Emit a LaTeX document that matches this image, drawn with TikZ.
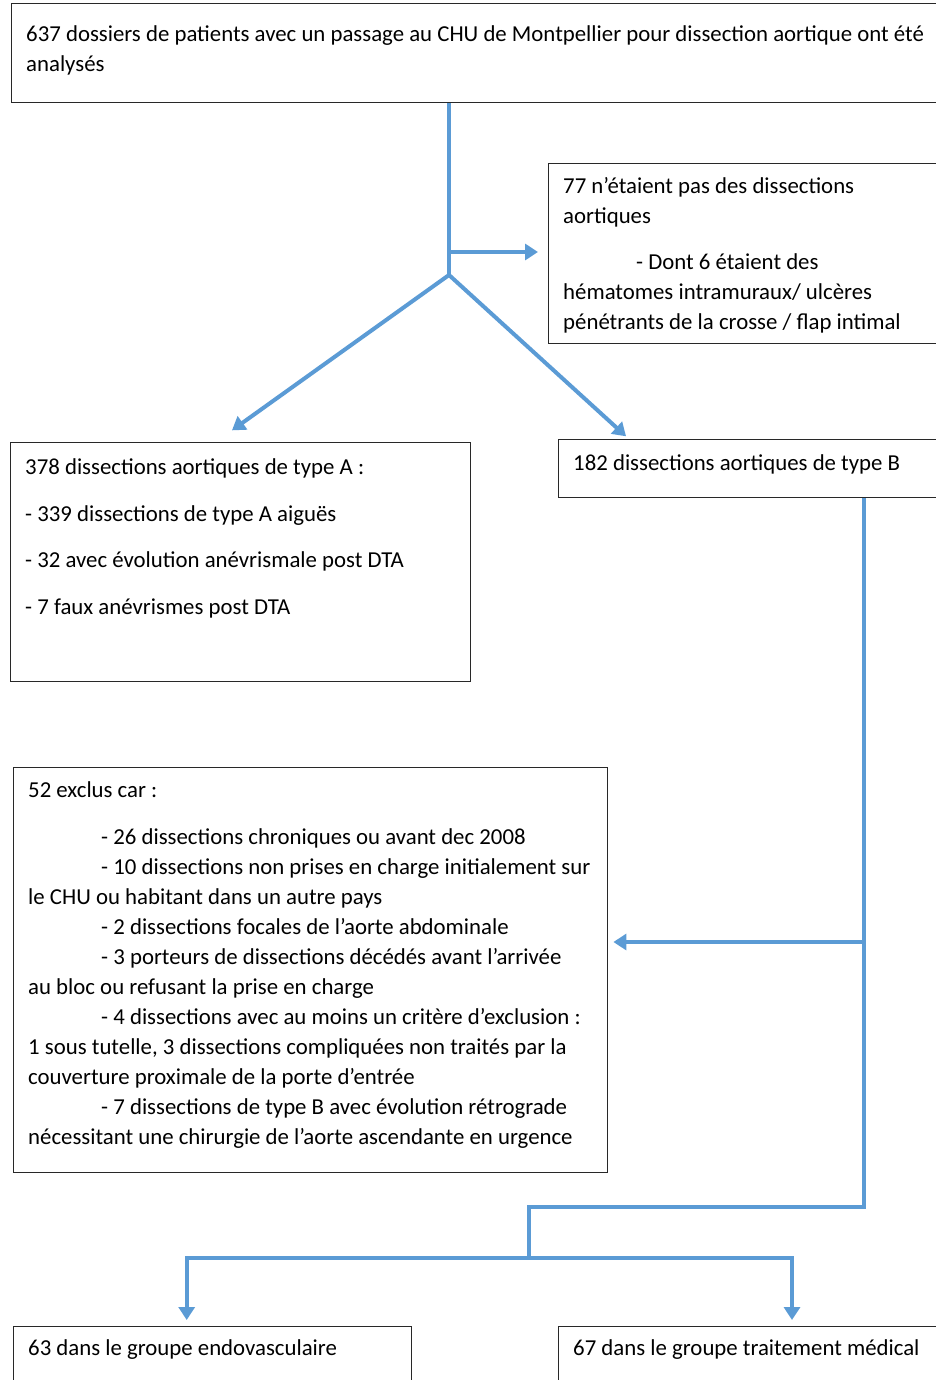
\documentclass[tikz,border=0pt]{standalone}
\usepackage{fontspec}
\setmainfont{Carlito}
\usepackage{tikz}
\usetikzlibrary{arrows.meta}
\usetikzlibrary{calc}
\definecolor{fleche}{RGB}{91,155,213}
\definecolor{cadre}{RGB}{40,40,40}
\newcommand{\debut}{\rule{0pt}{20pt}}
\newcommand{\retrait}{\hspace*{73pt}}
\tikzset{
	cadreboite/.style={draw=cadre,line width=1.4pt,rectangle,anchor=north west,inner sep=0pt},
	texte/.style={anchor=north west,align=left,inner sep=0pt,font=\fontsize{22.8}{30}\selectfont},
	flux/.style={draw=fleche,line width=4pt},
	fluxfl/.style={flux,-{Triangle[length=13pt,width=16pt]}}
}

\begin{document}
\begin{tikzpicture}[x=1pt,y=-1pt]
			\useasboundingbox (0,0) rectangle (936,1380);
			
			\node[cadreboite,minimum width=940pt,minimum height=99pt] (total) at (11,3) {};
			\node[texte] (total-txt) at ($(total.north west)+(15,18)$) {\debut 637 dossiers de patients avec un passage au CHU de Montpellier pour dissection aortique ont été\\ analysés};
			
			\node[cadreboite,minimum width=400pt,minimum height=180pt] (nonda) at (548,163) {};
			\node[texte] (nonda-txt) at ($(nonda.north west)+(15,10)$) {\debut 77 n’étaient pas des dissections\\ aortiques\\[16pt] \retrait - Dont 6 étaient des\\ hématomes intramuraux/ ulcères\\ pénétrants de la crosse / flap intimal};
			
			\node[cadreboite,minimum width=460pt,minimum height=239pt] (typeA) at (10,442) {};
			\node[texte] (typeA-txt) at ($(typeA.north west)+(15,12)$) {\debut 378 dissections aortiques de type A :\\[17pt] - 339 dissections de type A aiguës\\[16pt] - 32 avec évolution anévrismale post DTA\\[17pt] - 7 faux anévrismes post DTA};
			
			\node[cadreboite,minimum width=400pt,minimum height=58pt] (typeB) at (558,439) {};
			\node[texte] (typeB-txt) at ($(typeB.north west)+(15,11)$) {\debut 182 dissections aortiques de type B};
			
			\node[cadreboite,minimum width=594pt,minimum height=405pt] (exclus) at (13,767) {};
			\node[texte] (exclus-txt) at ($(exclus.north west)+(15,10)$) {\debut 52 exclus car :\\[17pt]
				\retrait - 26 dissections chroniques ou avant dec 2008\\
				\retrait - 10 dissections non prises en charge initialement sur\\
				le CHU ou habitant dans un autre pays\\
				\retrait - 2 dissections focales de l’aorte abdominale\\
				\retrait - 3 porteurs de dissections décédés avant l’arrivée\\
				au bloc ou refusant la prise en charge\\
				\retrait - 4 dissections avec au moins un critère d’exclusion :\\
				1 sous tutelle, 3 dissections compliquées non traités par la\\
				couverture proximale de la porte d’entrée\\
				\retrait - 7 dissections de type B avec évolution rétrograde\\
				nécessitant une chirurgie de l’aorte ascendante en urgence};
			
			\node[cadreboite,minimum width=398pt,minimum height=80pt] (endo) at (13,1326) {};
			\node[texte] (endo-txt) at ($(endo.north west)+(15,9)$) {\debut 63 dans le groupe endovasculaire};
			\node[cadreboite,minimum width=400pt,minimum height=80pt] (medic) at (558,1326) {};
			\node[texte] (medic-txt) at ($(medic.north west)+(15,9)$) {\debut 67 dans le groupe traitement médical};
			
			\coordinate (cote) at (449,252);
			\coordinate (fourche) at (449,275);
			\coordinate (jonction) at (864,942);
			\coordinate (coude) at (864,1207);
			\coordinate (partage) at (529,1258);
			
			\draw[flux] (total.south -| fourche) -- (fourche);
			\draw[fluxfl,shorten >=10pt] (cote) -- (nonda.west |- cote);
			\draw[fluxfl,shorten >=20pt] (fourche) -- ([xshift=-25pt]typeA.north);
			\draw[fluxfl,shorten >=4pt] (fourche) -- ([xshift=71pt]typeB.north west);
			\draw[flux] (typeB.south -| coude) -- (coude) -| (partage);
			\draw[fluxfl,shorten >=5pt] (jonction) -- (exclus.east |- jonction);
			\draw[fluxfl,shorten >=6pt] (partage) -| ([xshift=-26pt]endo.north);
			\draw[fluxfl,shorten >=6pt] (partage) -| ([xshift=234pt]medic.north west);
		\end{tikzpicture}
\end{document}
